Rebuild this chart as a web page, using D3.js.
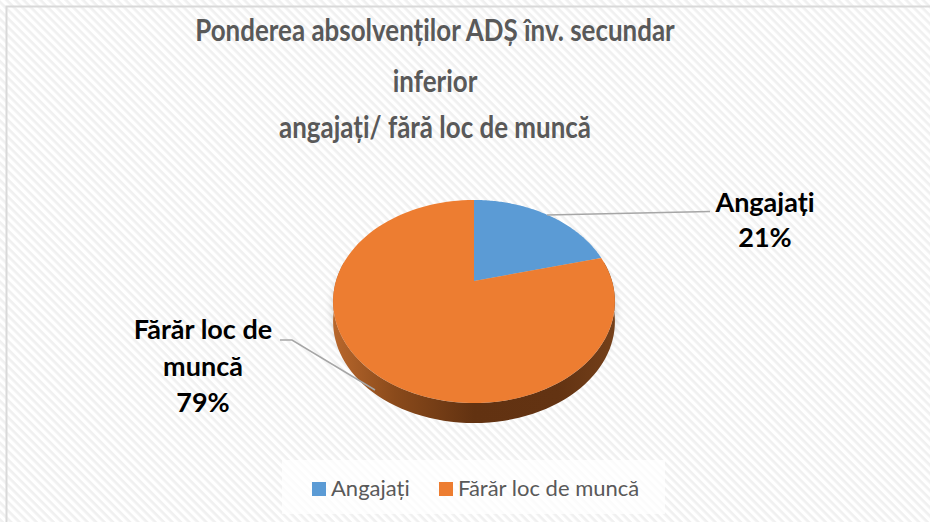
<!DOCTYPE html>
<html>
<head>
<meta charset="utf-8">
<script src="https://cdn.jsdelivr.net/npm/d3@7"></script>
<style>
  body { margin: 0; background: #fff; }
  svg { display: block; }
</style>
</head>
<body>
<div id="chart"></div>
<script>
// chart data
const categories = ["Angajați", "Fărăr loc de muncă"];
const values = [21, 79];
const labelLines = [["Angajați", "21%"], ["Fărăr loc de", "muncă", "79%"]];
const titleLines = ["Ponderea absolvenților ADȘ înv. secundar", "inferior", "angajați/ fără loc de muncă"];
const colors = ["#5b9bd5", "#ed7d31"];

const width = 930, height = 522;
const font = "Lato, 'Open Sans', sans-serif";

const svg = d3.select("#chart").append("svg")
  .attr("width", width)
  .attr("height", height);

const defs = svg.append("defs");

// hatched background like the excel texture
const pat = defs.append("pattern")
  .attr("id", "hatch")
  .attr("patternUnits", "userSpaceOnUse")
  .attr("width", 6).attr("height", 6)
  .attr("patternTransform", "rotate(45)");
pat.append("rect").attr("width", 6).attr("height", 6).attr("fill", "#ffffff");
pat.append("rect").attr("width", 6).attr("height", 2.6).attr("fill", "#f0f0f0");

const side = defs.append("linearGradient").attr("id", "sideGrad")
  .attr("x1", "0%").attr("x2", "100%").attr("y1", "0%").attr("y2", "0%");
[["0%", "#b8672c"], ["22%", "#8a4a1b"], ["50%", "#623211"], ["80%", "#633312"], ["100%", "#74401a"]]
  .forEach(s => side.append("stop").attr("offset", s[0]).attr("stop-color", s[1]));

const blur = defs.append("filter").attr("id", "shadow")
  .attr("x", "-20%").attr("y", "-20%").attr("width", "140%").attr("height", "140%");
blur.append("feGaussianBlur").attr("stdDeviation", 4);

svg.append("rect").attr("width", width).attr("height", height).attr("fill", "url(#hatch)");

// chart border (top / left visible)
svg.append("path")
  .attr("d", "M6.5,522 V6.5 H930")
  .attr("fill", "none").attr("stroke", "#d9d9d9").attr("stroke-width", 2);

// title (narrowed a bit so it reads like Calibri)
svg.append("g")
  .attr("transform", "translate(435,0) scale(0.865,1)")
  .selectAll("text").data(titleLines).join("text")
  .attr("x", 0)
  .attr("y", (d, i) => [41, 92, 138][i])
  .attr("text-anchor", "middle")
  .attr("font-family", font)
  .attr("font-weight", "bold")
  .attr("font-size", 30)
  .attr("fill", "#595959")
  .text(d => d);

// 3d pie, perspective projection of the rim
const cx = 474, cy = 281, R = 138, A = 97.4, B = -0.202, depth = 20;
function rim(t) {
  const X = Math.sin(t), D = -Math.cos(t);
  const s = 1 + B * D;
  return [cx + R * X / s, cy + A * D / s];
}

const arcs = d3.pie().sort(null).value(d => d)(values);

function rimPoints(a0, a1, n) {
  const pts = [];
  for (let i = 0; i <= n; i++) pts.push(rim(a0 + (a1 - a0) * i / n));
  return pts;
}

const line = d3.line();
const pie = svg.append("g");

// soft shadow
const shadowPts = rimPoints(0, 2 * Math.PI, 120).map(p => [p[0], p[1] + depth / 2]);
pie.append("path")
  .attr("d", line(shadowPts) + "Z")
  .attr("fill", "#000").attr("opacity", 0.18)
  .attr("filter", "url(#shadow)");

// side wall (front half only)
arcs.forEach((a, i) => {
  const s0 = Math.max(a.startAngle, Math.PI / 2 - 0.2), s1 = Math.min(a.endAngle, 3 * Math.PI / 2 + 0.2);
  if (s1 <= s0) return;
  const top = rimPoints(s0, s1, 80);
  const bottom = top.map(p => [p[0], p[1] + depth]).reverse();
  pie.append("path")
    .attr("d", line(top.concat(bottom)) + "Z")
    .attr("fill", i === 1 ? "url(#sideGrad)" : d3.color(colors[i]).darker(1.2));
});

// top faces
arcs.forEach((a, i) => {
  const pts = [[cx, cy]].concat(rimPoints(a.startAngle, a.endAngle, 100));
  pie.append("path")
    .attr("d", line(pts) + "Z")
    .attr("fill", colors[i]);
});

// leader lines
const leaders = [
  [[547, 215], [710, 211.5]],
  [[375, 390], [292, 340], [280, 340]]
];
svg.append("g").selectAll("path").data(leaders).join("path")
  .attr("d", d => line(d))
  .attr("fill", "none").attr("stroke", "#a6a6a6").attr("stroke-width", 1.5);

// data labels
const labelPos = [{x: 765, y: [212, 247]}, {x: 203, y: [339, 376, 412]}];
labelLines.forEach((lines, i) => {
  svg.append("g").selectAll("text").data(lines).join("text")
    .attr("x", labelPos[i].x)
    .attr("y", (d, j) => labelPos[i].y[j])
    .attr("text-anchor", "middle")
    .attr("font-family", font)
    .attr("font-weight", "bold")
    .attr("font-size", 27)
    .attr("fill", "#000")
    .text(d => d);
});

// legend
const legend = svg.append("g");
legend.append("rect")
  .attr("x", 282).attr("y", 460).attr("width", 383).attr("height", 54)
  .attr("fill", "#ffffff").attr("opacity", 0.75);
const legendX = [312, 439];
categories.forEach((c, i) => {
  legend.append("rect")
    .attr("x", legendX[i]).attr("y", 482).attr("width", 14).attr("height", 14)
    .attr("fill", colors[i]);
  legend.append("text")
    .attr("x", legendX[i] + 19).attr("y", 496)
    .attr("font-family", font)
    .attr("font-size", 22)
    .attr("fill", "#595959")
    .text(c);
});
</script>
</body>
</html>
